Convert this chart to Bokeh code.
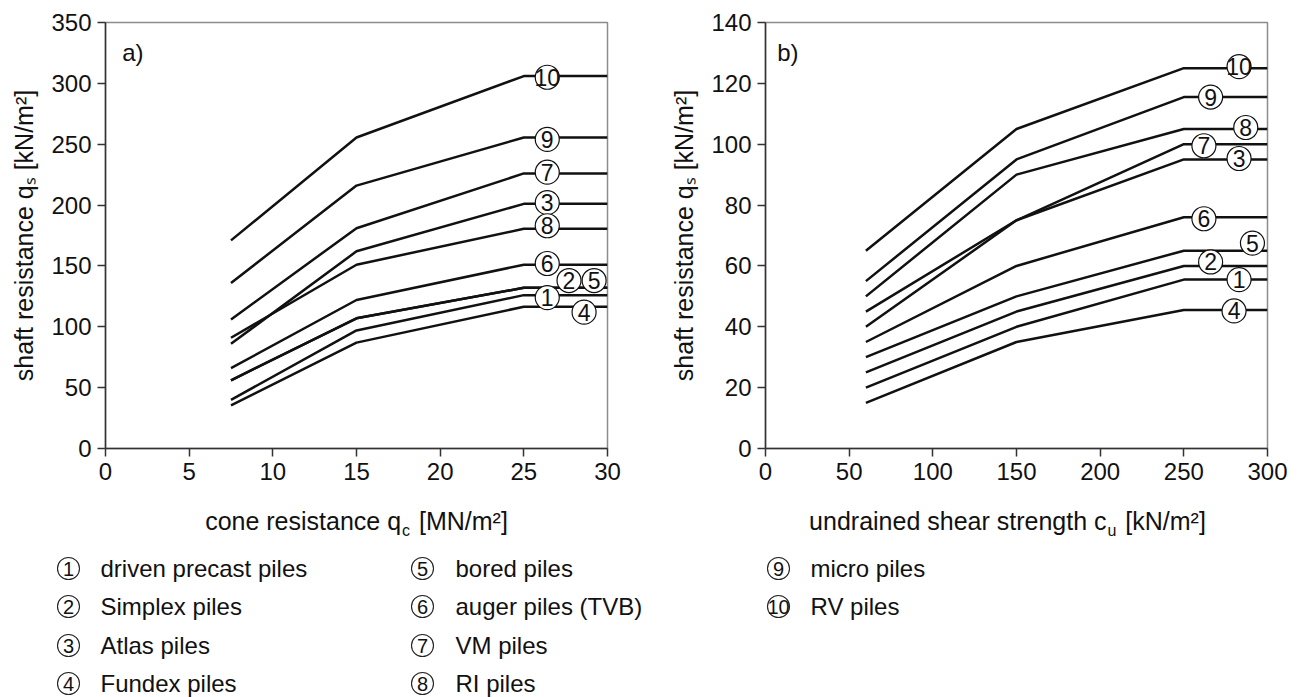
from bokeh.plotting import figure
from bokeh.models import Range1d, FixedTicker
from bokeh.layouts import column, row
from bokeh.core.properties import value
from bokeh.embed import file_html
from bokeh.resources import INLINE

FONT = "Liberation Sans"

# ---------------- data: panel a (cone resistance) ----------------
qc = [7.5, 15, 25, 30]
a_pile1 = [40, 97, 126, 126]
a_pile2 = [56, 107, 132, 132]
a_pile3 = [86, 162, 201, 201]
a_pile4 = [35.5, 87, 116.5, 116.5]
a_pile5 = [56, 107, 132, 132]
a_pile6 = [66, 122, 151, 151]
a_pile7 = [106, 181, 226, 226]
a_pile8 = [91, 151, 180.5, 180.5]
a_pile9 = [136, 216, 255.5, 255.5]
a_pile10 = [171, 255.5, 306, 306]

# ---------------- data: panel b (undrained shear strength) ----------------
cu = [60, 150, 250, 300]
b_pile1 = [20, 40, 55.5, 55.5]
b_pile2 = [25, 45, 60, 60]
b_pile3 = [45, 75, 95, 95]
b_pile4 = [15, 35, 45.5, 45.5]
b_pile5 = [30, 50, 65, 65]
b_pile6 = [35, 60, 76, 76]
b_pile7 = [40, 75, 100, 100]
b_pile8 = [50, 90, 105, 105]
b_pile9 = [55, 95, 115.5, 115.5]
b_pile10 = [65, 105, 125, 125]

pile_numbers = ["1", "2", "3", "4", "5", "6", "7", "8", "9", "10"]
pile_names = ["driven precast piles", "Simplex piles", "Atlas piles", "Fundex piles",
              "bored piles", "auger piles (TVB)", "VM piles", "RI piles",
              "micro piles", "RV piles"]

a_ticks_x = [0, 5, 10, 15, 20, 25, 30]
a_ticks_y = [0, 50, 100, 150, 200, 250, 300, 350]
b_ticks_x = [0, 50, 100, 150, 200, 250, 300]
b_ticks_y = [0, 20, 40, 60, 80, 100, 120, 140]

y_title = "shaft resistance q\u209b [kN/m\u00b2]"

# positions of the circled curve labels (annotation placement)
a_lab_x = [26.4, 27.7, 26.4, 28.6, 29.2, 26.4, 26.4, 26.4, 26.4, 26.4]
a_lab_y = [124, 138, 202, 112, 138, 152, 227, 183, 254, 305]
b_lab_x = [283, 266, 283, 280, 291, 262, 262, 287, 266, 283]
b_lab_y = [55.5, 61.3, 95.3, 45.2, 67.5, 75.5, 99.5, 105.5, 115.5, 125.5]

a_series = [a_pile1, a_pile2, a_pile3, a_pile4, a_pile5, a_pile6, a_pile7, a_pile8, a_pile9, a_pile10]
b_series = [b_pile1, b_pile2, b_pile3, b_pile4, b_pile5, b_pile6, b_pile7, b_pile8, b_pile9, b_pile10]

# Liberation Sans advance widths (1/1000 em)
CW = {' ': 278, '[': 278, ']': 278, '/': 278, 'M': 833, 'N': 722, 'k': 500, 'm': 833, '\u00b2': 333,
      'a': 556, 'b': 556, 'c': 500, 'd': 556, 'e': 556, 'f': 278, 'g': 556, 'h': 556, 'i': 222,
      'l': 222, 'n': 556, 'o': 556, 'p': 556, 'q': 556, 'r': 333, 's': 500, 't': 278, 'u': 556}


def tw(s, size):
    return sum(CW.get(ch, 556) for ch in s) * size / 1000.0


TITLE = 25
SUB = 16
FRAME_W, FRAME_H = 502, 426
TOP_B = 22
BOT_B = 45
TOP_H = TOP_B + FRAME_H + BOT_B
TXT = "#111111"


def blank(w, h):
    p = figure(width=w, height=h, x_range=Range1d(0, w), y_range=Range1d(h, 0),
               min_border=0, min_border_left=0, min_border_right=0, min_border_top=0,
               min_border_bottom=0, toolbar_location=None, output_backend="svg",
               x_axis_location=None, y_axis_location=None)
    p.xgrid.visible = False
    p.ygrid.visible = False
    p.outline_line_color = None
    p.background_fill_color = "white"
    p.border_fill_color = "white"
    return p


def make_panel(xs, series, xr, yr, xt, yt, lab_x, lab_y, left_border, right_border, panel_tag, tag_x):
    p = figure(width=left_border + FRAME_W + right_border, height=TOP_H,
               x_range=Range1d(xr[0], xr[1]), y_range=Range1d(yr[0], yr[1]),
               min_border_left=left_border, min_border_right=right_border,
               min_border_top=TOP_B, min_border_bottom=BOT_B,
               toolbar_location=None, output_backend="svg")
    p.xgrid.visible = False
    p.ygrid.visible = False
    p.outline_line_color = "#8c8c8c"
    p.outline_line_width = 1.5
    p.background_fill_color = "white"
    p.border_fill_color = "white"
    for ax, ticks in ((p.xaxis, xt), (p.yaxis, yt)):
        ax.ticker = FixedTicker(ticks=ticks)
        ax.axis_line_color = "#333333"
        ax.axis_line_width = 1.5
        ax.major_tick_line_color = "#333333"
        ax.major_tick_line_width = 1.5
        ax.major_tick_out = 8
        ax.major_tick_in = 0
        ax.minor_tick_line_color = None
        ax.major_label_text_font = FONT
        ax.major_label_text_font_size = "24px"
        ax.major_label_text_color = TXT
        ax.major_label_standoff = 6
    p.yaxis.axis_label = y_title
    p.yaxis.axis_label_text_font = FONT
    p.yaxis.axis_label_text_font_size = f"{TITLE}px"
    p.yaxis.axis_label_text_font_style = "normal"
    p.yaxis.axis_label_text_color = TXT
    p.yaxis.axis_label_standoff = 10

    for ys in series:
        p.line(xs, ys, line_color=TXT, line_width=2.5)

    p.scatter(lab_x, lab_y, marker="circle", size=24, fill_color="white",
              line_color=TXT, line_width=1.2)
    p.text(lab_x, lab_y, text=pile_numbers, text_font=value(FONT), text_font_size="23px",
           text_align="center", text_baseline="middle", text_color=TXT)
    p.text([tag_x], [yr[1] - (52 - TOP_B) * (yr[1] - yr[0]) / FRAME_H], text=[panel_tag],
           text_font=value(FONT), text_font_size="24px", text_align="left",
           text_baseline="middle", text_color=TXT)
    return p


# panel a: frame 105..607 ; panel b: frame 765..1267
pa = make_panel(qc, a_series, (0, 30), (0, 350), a_ticks_x, a_ticks_y, a_lab_x, a_lab_y,
                105, 30, "a)", 1.0)
pb = make_panel(cu, b_series, (0, 300), (0, 140), b_ticks_x, b_ticks_y, b_lab_x, b_lab_y,
                128, 30, "b)", 7.0)

# ---------------- bottom strip: x titles + legend ----------------
LW = pa.width + pb.width
LH = 697 - TOP_H
pl = blank(LW, LH)


def x_title(p, cx, base, main, sub, rest):
    w_main = tw(main, TITLE)
    w_sub = tw(sub, SUB)
    gap = tw(" ", TITLE) + 3
    w_rest = tw(rest, TITLE)
    total = w_main + w_sub + gap + w_rest
    x0 = cx - total / 2.0
    p.text([x0], [base], text=[main], text_font=value(FONT), text_font_size=f"{TITLE}px",
           text_align="left", text_baseline="alphabetic", text_color=TXT)
    p.text([x0 + w_main + 1], [base + 10], text=[sub], text_font=value(FONT),
           text_font_size=f"{SUB}px", text_align="left", text_baseline="alphabetic", text_color=TXT)
    p.text([x0 + w_main + w_sub + gap], [base], text=[rest], text_font=value(FONT),
           text_font_size=f"{TITLE}px", text_align="left", text_baseline="alphabetic", text_color=TXT)


x_title(pl, 356, 520 - TOP_H, "cone resistance q", "c", "[MN/m\u00b2]")
x_title(pl, 1007, 520 - TOP_H, "undrained shear strength c", "u", "[kN/m\u00b2]")

col_circle_x = [68, 422, 778]
col_text_x = [100, 455, 810]
row_y = [568 - TOP_H, 606 - TOP_H, 645 - TOP_H, 683 - TOP_H]
leg_cx, leg_cy, leg_tx = [], [], []
for i in range(len(pile_numbers)):
    c, r = divmod(i, 4)
    leg_cx.append(col_circle_x[c])
    leg_tx.append(col_text_x[c])
    leg_cy.append(row_y[r])

pl.scatter(leg_cx, leg_cy, marker="circle", size=22, fill_color="white", line_color="#222222",
           line_width=1.1)
pl.text(leg_cx, leg_cy, text=pile_numbers, text_font=value(FONT), text_font_size="20px",
        text_align="center", text_baseline="middle", text_color=TXT)
pl.text(leg_tx, leg_cy, text=pile_names, text_font=value(FONT), text_font_size="24px",
        text_align="left", text_baseline="middle", text_color=TXT)

layout = column(row(pa, pb), pl)
open("out.html", "w").write(file_html(layout, INLINE))
